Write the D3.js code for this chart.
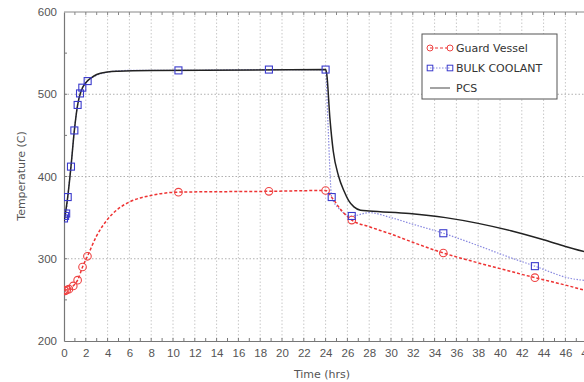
<!DOCTYPE html>
<html>
<head>
<meta charset="utf-8">
<script src="https://cdn.jsdelivr.net/npm/d3@7"></script>
<style>
  html, body { margin: 0; padding: 0; background: #fff; }
  svg { display: block; font-family: "DejaVu Sans", Verdana, sans-serif; }
</style>
</head>
<body>
<svg id="chart" width="584" height="382"></svg>
<script>
// Guard vessel temperature: measured markers and traced curve
const guardMarkers = [
  [0.0, 262], [0.1, 261], [0.25, 262], [0.45, 263], [0.85, 267], [1.25, 274],
  [1.7, 290], [2.15, 303], [10.5, 381], [18.8, 382], [24.0, 383],
  [26.4, 347], [34.8, 307], [43.2, 277]
];
const guardLine = [
  [0.0, 262], [0.45, 263], [0.85, 267], [1.25, 274], [1.7, 290], [2.15, 303],
  [3, 328], [4, 348], [5, 361], [6, 369], [8, 377], [10.5, 381], [18.8, 382],
  [24.0, 383], [24.6, 374], [25.5, 358], [26.4, 347], [28, 339], [30, 330],
  [32, 320], [34.8, 307], [38, 295], [40, 288], [43.2, 277], [46, 268], [48.5, 259]
];

// Bulk coolant temperature
const bulkMarkers = [
  [0.0, 349], [0.1, 352], [0.2, 355], [0.34, 375], [0.64, 412], [0.95, 456],
  [1.25, 487], [1.47, 501], [1.68, 508], [2.17, 516], [10.5, 529], [18.8, 530],
  [24.0, 530], [24.56, 375], [26.4, 352], [34.8, 331], [43.2, 291]
];
const bulkLine = [
  [0.0, 349], [0.2, 355], [0.34, 375], [0.64, 412], [0.95, 456], [1.25, 487],
  [1.47, 501], [1.68, 508], [2.17, 516], [3, 523], [4, 527], [6, 529],
  [10.5, 529], [18.8, 530], [24.0, 530], [24.2, 470], [24.56, 375], [25.3, 360],
  [26.4, 352], [28, 356], [30, 350], [32, 342], [34.8, 331], [38, 316], [40, 306],
  [43.2, 291], [46.5, 276], [48.5, 273]
];

// PCS temperature (line only)
const pcsLine = [
  [0.0, 345], [0.34, 375], [0.64, 412], [0.95, 456], [1.25, 487], [1.6, 505],
  [2.0, 514], [2.5, 520], [3, 524], [4, 527], [5, 528], [8, 529], [24.0, 530],
  [24.1, 525], [24.4, 470], [24.7, 431], [25.2, 400], [25.7, 382], [26.1, 371],
  [26.6, 363], [27.2, 359], [28, 358], [31.7, 355], [35, 350], [38, 343],
  [41, 334], [44, 323], [46, 315], [48.5, 306]
];

const xTicks = d3.range(0, 50, 2);
const yTicks = [200, 300, 400, 500, 600];

const svg = d3.select("#chart");
const x = d3.scaleLinear().domain([0, 50]).range([64, 609]);
const y = d3.scaleLinear().domain([200, 600]).range([341, 12]);
const plotW = 609 - 64;

svg.append("defs").append("clipPath").attr("id", "plotClip")
  .append("rect").attr("x", 64).attr("y", 12).attr("width", plotW).attr("height", 329);

// grid
const grid = svg.append("g");
grid.selectAll("line.vg").data(xTicks.filter(d => d > 0)).join("line")
  .attr("x1", d => x(d)).attr("x2", d => x(d)).attr("y1", 12).attr("y2", 341)
  .attr("stroke", "#c8c8c8").attr("stroke-width", 1).attr("stroke-dasharray", "1.5,2");
grid.selectAll("line.hg").data([300, 400, 500]).join("line")
  .attr("x1", 64).attr("x2", 609).attr("y1", d => y(d)).attr("y2", d => y(d))
  .attr("stroke", "#b0b0b0").attr("stroke-width", 1).attr("stroke-dasharray", "1.5,2");

// axes
const xAxis = svg.append("g").attr("transform", "translate(0,341)")
  .call(d3.axisBottom(x).tickValues(xTicks).tickSize(0).tickPadding(8).tickFormat(d3.format("d")));
const yAxis = svg.append("g").attr("transform", "translate(64,0)")
  .call(d3.axisLeft(y).tickValues(yTicks).tickSize(0).tickPadding(7).tickFormat(d3.format("d")));
[xAxis, yAxis].forEach(a => {
  a.select(".domain").attr("stroke", "#777").attr("stroke-width", 1.2);
  a.selectAll("text").attr("fill", "#555").style("font-size", "11.5px");
});
// top frame
svg.append("line").attr("x1", 64).attr("x2", 609).attr("y1", 12).attr("y2", 12)
  .attr("stroke", "#888").attr("stroke-width", 1);

// small inward ticks
svg.append("g").selectAll("line").data(d3.range(1, 50, 1)).join("line")
  .attr("x1", d => x(d)).attr("x2", d => x(d)).attr("y1", 341).attr("y2", 338)
  .attr("stroke", "#777");
svg.append("g").selectAll("line").data(d3.range(250, 600, 50)).join("line")
  .attr("x1", 64).attr("x2", 67).attr("y1", d => y(d)).attr("y2", d => y(d))
  .attr("stroke", "#777");
svg.append("g").selectAll("line").data(d3.range(1, 50, 1)).join("line")
  .attr("x1", d => x(d)).attr("x2", d => x(d)).attr("y1", 12).attr("y2", 15)
  .attr("stroke", "#888");

// titles
svg.append("text").attr("x", 322).attr("y", 378).attr("text-anchor", "middle")
  .attr("fill", "#555").style("font-size", "11px").text("Time (hrs)");
svg.append("text").attr("transform", "translate(25,176) rotate(-90)").attr("text-anchor", "middle")
  .attr("fill", "#555").style("font-size", "11px").text("Temperature (C)");

// series
const plot = svg.append("g").attr("clip-path", "url(#plotClip)");
const line = d3.line().x(d => x(d[0])).y(d => y(d[1])).curve(d3.curveMonotoneX);

plot.append("path").datum(bulkLine).attr("d", line).attr("fill", "none")
  .attr("stroke", "#8a8ae0").attr("stroke-width", 1.2).attr("stroke-dasharray", "1.5,1.5");
plot.append("path").datum(guardLine).attr("d", line).attr("fill", "none")
  .attr("stroke", "#ee3333").attr("stroke-width", 1.5).attr("stroke-dasharray", "3,2");
plot.append("path").datum(pcsLine).attr("d", line).attr("fill", "none")
  .attr("stroke", "#222").attr("stroke-width", 1.5);

plot.selectAll("circle.g").data(guardMarkers).join("circle")
  .attr("cx", d => x(d[0])).attr("cy", d => y(d[1])).attr("r", 3.8)
  .attr("fill", "none").attr("stroke", "#ee4444").attr("stroke-width", 1.1);
plot.selectAll("rect.b").data(bulkMarkers).join("rect")
  .attr("x", d => x(d[0]) - 3.5).attr("y", d => y(d[1]) - 3.5)
  .attr("width", 7).attr("height", 7)
  .attr("fill", "none").attr("stroke", "#3a3acc").attr("stroke-width", 1.1);

// legend
const lg = svg.append("g");
lg.append("rect").attr("x", 422).attr("y", 34).attr("width", 135).attr("height", 65)
  .attr("fill", "#fff").attr("stroke", "#555").attr("stroke-width", 1);
const items = [
  { name: "Guard Vessel", color: "#ee3333", dash: "3,2", mark: "circle", mc: "#ee4444" },
  { name: "BULK COOLANT", color: "#8a8ae0", dash: "1.5,1.5", mark: "rect", mc: "#3a3acc" },
  { name: "PCS", color: "#222", dash: null, mark: null }
];
items.forEach((it, i) => {
  const cy = 48 + i * 20;
  lg.append("line").attr("x1", 430).attr("x2", 450).attr("y1", cy).attr("y2", cy)
    .attr("stroke", it.mark ? it.color : "#666").attr("stroke-width", it.mark ? 1.2 : 1.2)
    .attr("stroke-dasharray", it.dash);
  if (it.mark === "circle") {
    [430, 450].forEach(cx => lg.append("circle").attr("cx", cx).attr("cy", cy).attr("r", 3)
      .attr("fill", "none").attr("stroke", it.mc));
  } else if (it.mark === "rect") {
    [430, 450].forEach(cx => lg.append("rect").attr("x", cx - 2.8).attr("y", cy - 2.8)
      .attr("width", 5.6).attr("height", 5.6).attr("fill", "none").attr("stroke", it.mc));
  }
  lg.append("text").attr("x", 456).attr("y", cy + 4).attr("fill", "#333")
    .style("font-size", "11px").text(it.name);
});
</script>
</body>
</html>
